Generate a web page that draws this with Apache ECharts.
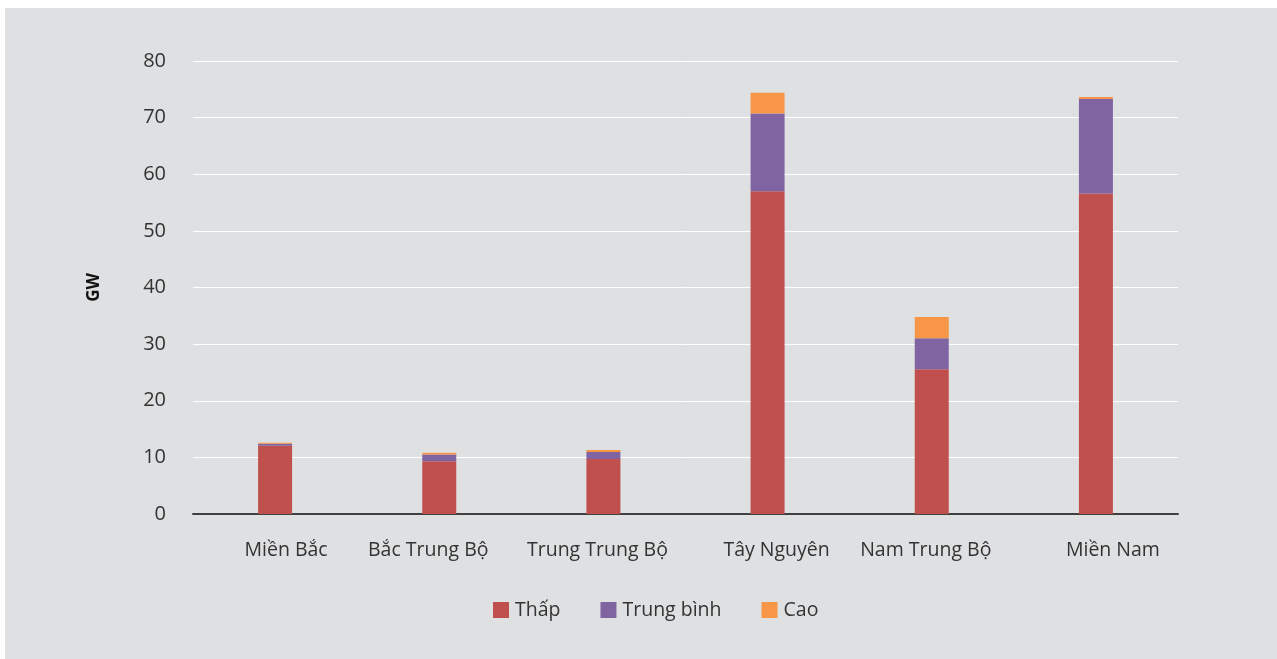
<!DOCTYPE html>
<html>
<head>
<meta charset="utf-8">
<script src="https://cdn.jsdelivr.net/npm/echarts@6/dist/echarts.min.js"></script>
<style>
  html, body { margin: 0; padding: 0; background: #ffffff; width: 1277px; height: 659px; overflow: hidden; }
  #panel { position: absolute; left: 5px; top: 8px; right: 0; bottom: 0; background: #dfe0e2; }
  #chart { position: absolute; left: 0; top: 0; width: 1277px; height: 659px; }
</style>
</head>
<body>
<div id="panel"></div>
<div id="chart"></div>
<script>
// Regions and installed capacity (GW) by potential level
const regions = ['Miền Bắc', 'Bắc Trung Bộ', 'Trung Trung Bộ', 'Tây Nguyên', 'Nam Trung Bộ', 'Miền Nam'];
const seriesNames = ['Thấp', 'Trung bình', 'Cao'];
const thap = [12.05, 9.3, 9.7, 57.0, 25.55, 56.6];
const trungBinh = [0.35, 1.2, 1.25, 13.75, 5.5, 16.7];
const cao = [0.2, 0.3, 0.35, 3.65, 3.75, 0.35];
const yTicks = [0, 10, 20, 30, 40, 50, 60, 70, 80];
const colors = ['#c0504d', '#8064a2', '#f79646'];

// horizontal nudge of each category label (px, positive = right)
const labelShift = [11, -11, -6, 9, -6, 17];

const font = '"Open Sans", "Noto Sans", sans-serif';
const chart = echarts.init(document.getElementById('chart'));

const values = [thap, trungBinh, cao];
chart.setOption({
  backgroundColor: 'transparent',
  animation: false,
  textStyle: { fontFamily: font, color: '#333333' },
  grid: { left: 193, right: 99, top: 61, bottom: 145 },
  legend: {
    left: 493,
    top: 600,
    padding: 0,
    itemWidth: 16,
    itemHeight: 16,
    itemGap: 40,
    icon: 'rect',
    textStyle: { fontFamily: font, fontSize: 19.5, color: '#333333', padding: [0, 0, 0, 1] },
    data: seriesNames
  },
  xAxis: {
    type: 'category',
    data: regions.map((r, i) => ({
      value: r,
      textStyle: {
        padding: labelShift[i] >= 0 ? [0, 0, 0, 2 * labelShift[i]] : [0, -2 * labelShift[i], 0, 0]
      }
    })),
    axisTick: { show: false },
    axisLine: { lineStyle: { color: '#404040', width: 2 } },
    axisLabel: { interval: 0, fontFamily: font, fontSize: 19.5, color: '#333333', margin: 26 }
  },
  yAxis: {
    type: 'value',
    min: yTicks[0],
    max: yTicks[yTicks.length - 1],
    interval: 10,
    name: 'GW',
    nameLocation: 'middle',
    nameGap: 90,
    nameTextStyle: { fontFamily: font, fontSize: 17, fontWeight: 'bold', color: '#111111' },
    axisLine: { show: false },
    axisTick: { show: false },
    splitLine: { lineStyle: { color: '#ffffff', width: 1 } },
    axisLabel: { fontFamily: font, fontSize: 20, color: '#333333', margin: 27 }
  },
  series: seriesNames.map((name, i) => ({
    name: name,
    type: 'bar',
    stack: 'total',
    barWidth: 34,
    itemStyle: { color: colors[i] },
    data: values[i]
  }))
});
</script>
</body>
</html>
